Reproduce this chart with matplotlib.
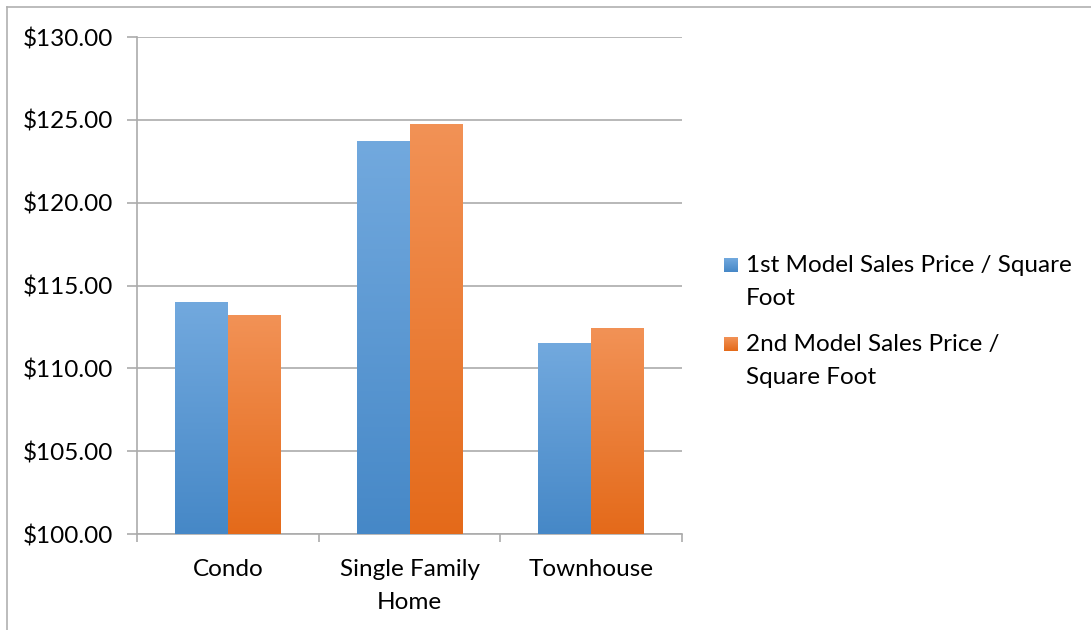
import numpy as np
import matplotlib
matplotlib.use("Agg")
import matplotlib.pyplot as plt
from matplotlib.colors import LinearSegmentedColormap
from matplotlib.lines import Line2D

categories = ["Condo", "Single Family\nHome", "Townhouse"]
first_model = [113.95, 123.72, 111.47]
second_model = [113.16, 124.69, 112.38]
series_labels = ["1st Model Sales Price / Square\nFoot", "2nd Model Sales Price /\nSquare Foot"]
yticks = [100, 105, 110, 115, 120, 125, 130]

blue_top, blue_bot = "#72A9DE", "#4688C7"
orange_top, orange_bot = "#F29256", "#E46A1A"

plt.rcParams["font.family"] = ["Lato", "DejaVu Sans"]
FS = 17.5

W, H = 1091, 630
fig = plt.figure(figsize=(W / 100, H / 100), dpi=100)
ax = fig.add_axes([137 / W, 1 - 534 / H, (682 - 137) / W, (534 - 37) / H])

x = np.arange(len(categories))
w = 0.29
ymin, ymax = 100, 130


def gradient_bars(xpos, vals, top, bot):
    cmap = LinearSegmentedColormap.from_list("g", [bot, top])
    bars = ax.bar(xpos, [v - ymin for v in vals], w, bottom=ymin, color=bot, zorder=2, linewidth=0)
    grad = np.linspace(0, 1, 256).reshape(-1, 1)
    for b in bars:
        x0, y0 = b.get_x(), b.get_y()
        ax.imshow(grad, cmap=cmap, origin="lower", aspect="auto",
                  extent=[x0, x0 + b.get_width(), y0, y0 + b.get_height()], zorder=3)
    return bars


gradient_bars(x - w / 2, first_model, blue_top, blue_bot)
gradient_bars(x + w / 2, second_model, orange_top, orange_bot)

ax.set_xlim(-0.5, len(categories) - 0.5)
ax.set_ylim(ymin, ymax)

grid_color = "#ABABAB"
ax.set_yticks(yticks)
ax.set_yticklabels([f"${v:.2f}" for v in yticks])
ax.yaxis.grid(True, color=grid_color, linewidth=1.2, zorder=0)
ax.set_axisbelow(True)

ax.set_xticks(x)
ax.set_xticklabels(categories, linespacing=1.68, va="top")
ax.set_xticks(np.arange(len(categories) + 1) - 0.5, minor=True)
ax.tick_params(axis="x", which="major", length=0, pad=18, labelsize=FS)
ax.tick_params(axis="x", which="minor", length=5.8, width=1.2, color=grid_color, direction="out")
ax.tick_params(axis="y", length=7.5, width=1.2, color=grid_color, pad=9.4, labelsize=FS)

for s in ["top", "right"]:
    ax.spines[s].set_visible(False)
for s in ["left", "bottom"]:
    ax.spines[s].set_color(grid_color)
    ax.spines[s].set_linewidth(1.2)

# legend: square markers beside wrapped labels
legend_colors = [(blue_top, blue_bot), (orange_top, orange_bot)]
first_line_y = [265, 344]
for (ctop, cbot), label, ly in zip(legend_colors, series_labels, first_line_y):
    sq = 14
    cmap = LinearSegmentedColormap.from_list("lg", [cbot, ctop])
    sax = fig.add_axes([724 / W, 1 - (ly + sq / 2) / H, sq / W, sq / H])
    sax.imshow(np.linspace(0, 1, 64).reshape(-1, 1), cmap=cmap, origin="lower", aspect="auto")
    sax.axis("off")
    fig.text(746 / W, 1 - (ly - 10) / H, label, fontsize=FS, va="top", ha="left", linespacing=1.72)

# outer border on the top and left
fig.add_artist(Line2D([7 / W, 7 / W], [0, 1 - 7 / H], transform=fig.transFigure, color="#B0B0B0", lw=1.2))
fig.add_artist(Line2D([7 / W, 1], [1 - 7 / H, 1 - 7 / H], transform=fig.transFigure, color="#B0B0B0", lw=1.2))

fig.savefig("out.png", dpi=100)
